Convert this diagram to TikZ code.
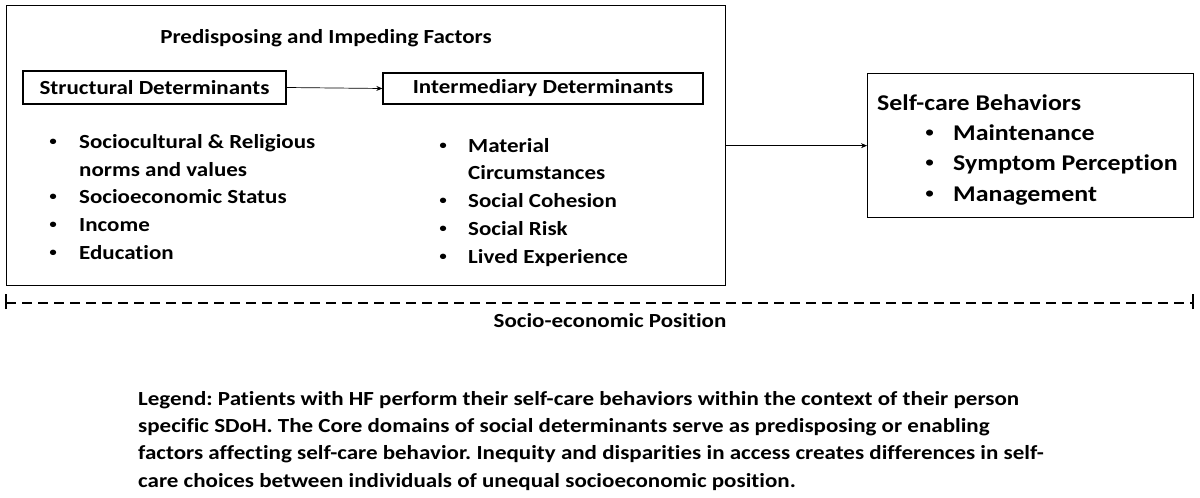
\documentclass[tikz,border=0pt]{standalone}
\usepackage{fontspec}
\setmainfont{Carlito}[FakeStretch=1.15, Ligatures={NoCommon}]
\newfontfamily\bulfont{Liberation Sans}[FakeStretch=1.15]
\usetikzlibrary{arrows.meta}
\newcommand{\mybul}{{\bulfont\mdseries •}}
\frenchspacing
\begin{document}
\begin{tikzpicture}[x=1pt,y=-1pt,
  box/.style={draw, line width=1.3pt, inner sep=0pt},
  t20/.style={font=\fontsize{20}{24}\selectfont\bfseries, inner sep=0pt},
  t23/.style={font=\fontsize{22.5}{27}\selectfont\bfseries, inner sep=0pt, anchor=base west},
  li/.style={t20, anchor=base west},
  conn/.style={draw, line width=0.7pt, -{Stealth[length=6pt,width=5pt]}}]
\useasboundingbox (0,0) rectangle (1200,498);
% outer box
\node[box, anchor=north west, minimum width=719pt, minimum height=280pt] (outer) at (6,5) {};
\node[t20, anchor=base] (title) at (326,43) {Predisposing and Impeding Factors};
% inner boxes
\node[box, t20, minimum width=263pt, minimum height=33pt] (struct) at (154.5,87.5) {Structural Determinants};
\node[box, t20, minimum width=320pt, minimum height=31pt] (inter) at (543,88.5) {Intermediary Determinants};
\draw[conn] (struct.east) -- (inter.west);
% left list
\node[li] (b1) at (49,148) {\mybul};
\node[li] (l1) at (79,148) {Sociocultural \& Religious};
\node[li] (l1b) at (79,176) {norms and values};
\node[li] (b2) at (49,203) {\mybul};
\node[li] (l2) at (79,203) {Socioeconomic Status};
\node[li] (b3) at (49,231) {\mybul};
\node[li] (l3) at (79,231) {Income};
\node[li] (b4) at (49,259) {\mybul};
\node[li] (l4) at (79,259) {Education};
% right list
\node[li] (c1) at (439,152) {\mybul};
\node[li] (r1) at (468,152) {Material};
\node[li] (r1b) at (468,179) {Circumstances};
\node[li] (c2) at (439,207) {\mybul};
\node[li] (r2) at (468,207) {Social Cohesion};
\node[li] (c3) at (439,235) {\mybul};
\node[li] (r3) at (468,235) {Social Risk};
\node[li] (c4) at (439,263) {\mybul};
\node[li] (r4) at (468,263) {Lived Experience};
% self-care box
\node[box, anchor=north west, minimum width=326pt, minimum height=144pt] (self) at (867,73) {};
\draw[conn] (outer.east) -- (self.west);
\node[t23] (st) at (877,110) {Self-care Behaviors};
\node[t23] (d1) at (925,140) {\mybul};
\node[t23] (s1) at (953,140) {Maintenance};
\node[t23] (d2) at (925,170) {\mybul};
\node[t23] (s2) at (953,170) {Symptom Perception};
\node[t23] (d3) at (925,201) {\mybul};
\node[t23] (s3) at (953,201) {Management};
% socio-economic position line
\coordinate (pl) at (6,303);
\coordinate (pr) at (1193,303);
\draw[line width=2.4pt, dash pattern=on 10pt off 6pt] (pl) -- (pr);
\draw[line width=2.4pt] ([yshift=-6pt]pl) -- ([yshift=9pt]pl);
\draw[line width=2.4pt] ([yshift=-6pt]pr) -- ([yshift=9pt]pr);
\node[t20, anchor=base] (sep) at (610,327) {Socio-economic Position};
% legend
\node[li] (g1) at (138,405) {Legend: Patients with HF perform their self-care behaviors within the context of their person};
\node[li] (g2) at (138,432) {specific SDoH. The Core domains of social determinants serve as predisposing or enabling};
\node[li] (g3) at (138,459) {factors affecting self-care behavior. Inequity and disparities in access creates differences in self-};
\node[li] (g4) at (138,487) {care choices between individuals of unequal socioeconomic position.};
\end{tikzpicture}
\end{document}
